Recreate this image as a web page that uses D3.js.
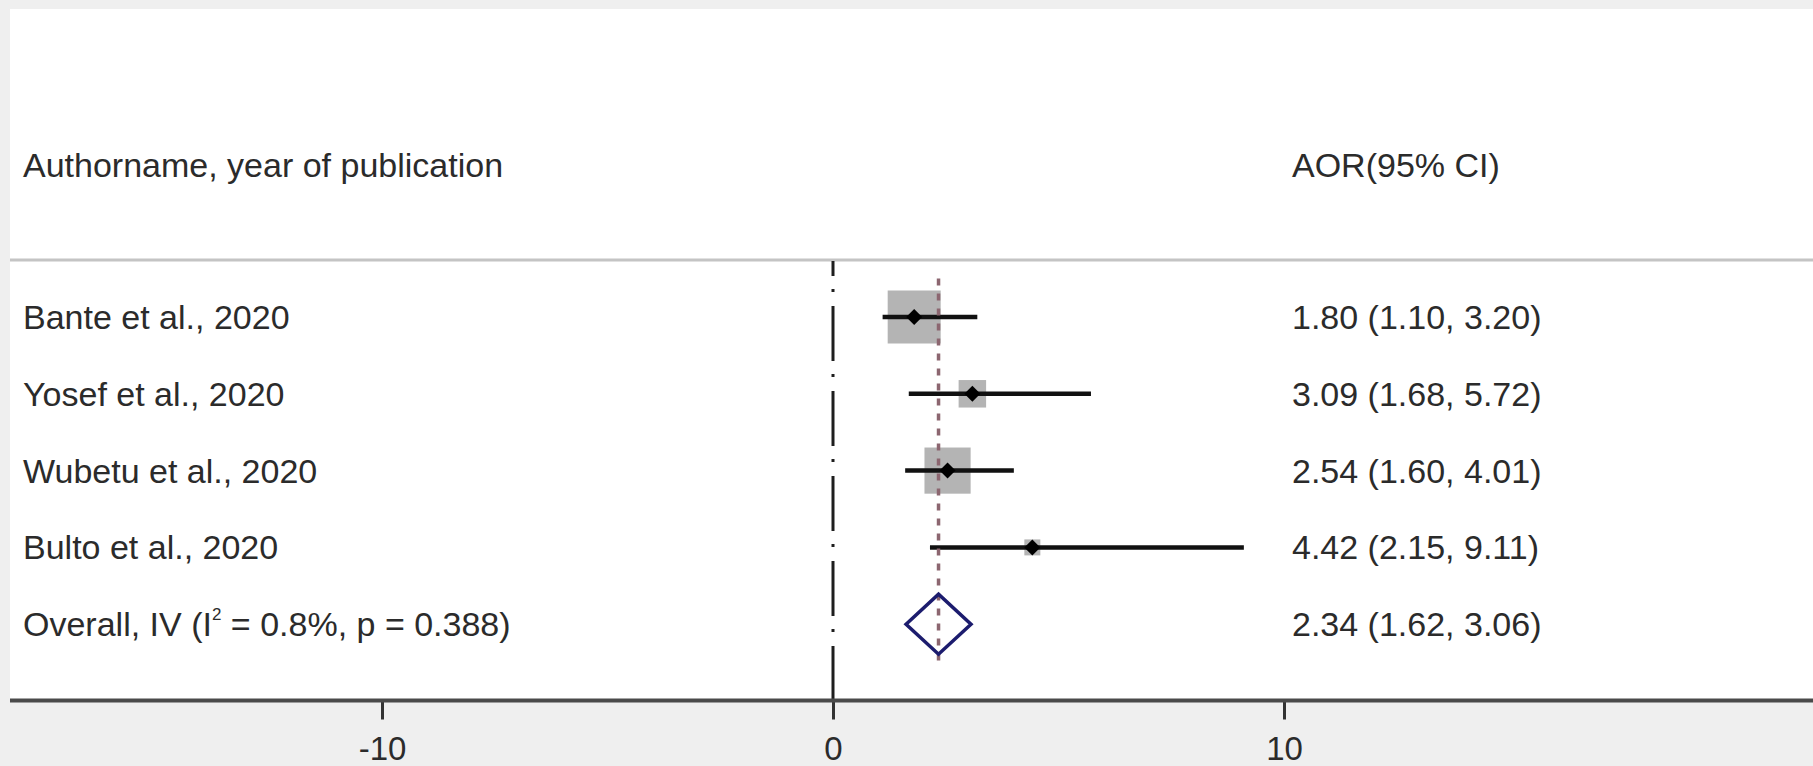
<!DOCTYPE html>
<html>
<head>
<meta charset="utf-8">
<script src="https://cdnjs.cloudflare.com/ajax/libs/d3/7.8.5/d3.min.js"></script>
<style>
  html, body { margin: 0; padding: 0; background: #efefef; }
  svg { display: block; }
  text { font-family: "Liberation Sans", Arial, sans-serif; fill: #2b2b2b; }
</style>
</head>
<body>
<script>
// Study-level estimates (adjusted odds ratios with 95% CI)
const studies = ["Bante et al., 2020", "Yosef et al., 2020", "Wubetu et al., 2020", "Bulto et al., 2020"];
const aor = [1.80, 3.09, 2.54, 4.42];
const lower = [1.10, 1.68, 1.60, 2.15];
const upper = [3.20, 5.72, 4.01, 9.11];
// Relative study weights (%), drive box size
const weights = [47.2, 12.7, 35.8, 4.3];

// Pooled estimate
const overallLabel = ["Overall, IV (I", "2", " = 0.8%, p = 0.388)"];
const overallEst = [2.34];
const overallLower = [1.62];
const overallUpper = [3.06];

// Column headings and axis ticks
const headers = ["Authorname, year of publication", "AOR(95% CI)"];
const xTicks = [-10, 0, 10];

const W = 1813, H = 766;
const svg = d3.select("body").append("svg").attr("width", W).attr("height", H);

// Panel geometry
const panelLeft = 10, panelTop = 9;
const axisY = 700.5;
const headerLineY = 260;
const labelX = 23, ciX = 1292;

const fmt = d3.format(".2f");
const rows = studies.concat(["overall"]);

const x = d3.scaleLinear().domain([-10, 10]).range([382, 1284]);
const y = d3.scalePoint().domain(rows).range([317, 624.2]);
const step = y.step();
const boxSize = d3.scaleSqrt().domain([0, 47.2]).range([0, 53]);

// White plot region
svg.append("rect")
  .attr("x", panelLeft).attr("y", panelTop)
  .attr("width", W - panelLeft).attr("height", axisY - panelTop)
  .attr("fill", "#ffffff");

// Header texts
svg.append("text").attr("x", labelX).attr("y", 177).attr("font-size", 34).text(headers[0]);
svg.append("text").attr("x", ciX).attr("y", 177).attr("font-size", 34).text(headers[1]);

// Header separator
svg.append("line")
  .attr("x1", panelLeft).attr("x2", W)
  .attr("y1", headerLineY).attr("y2", headerLineY)
  .attr("stroke", "#c4c4c4").attr("stroke-width", 3);

// Null line at zero
svg.append("line")
  .attr("x1", x(0)).attr("x2", x(0))
  .attr("y1", headerLineY + 1).attr("y2", axisY)
  .attr("stroke", "#1e1e1e").attr("stroke-width", 3)
  .attr("stroke-dasharray", "55,13,3,14")
  .attr("stroke-dashoffset", 40);

// Weight boxes
const g = svg.append("g");
g.selectAll("rect.box").data(studies).join("rect")
  .attr("class", "box")
  .attr("x", (d, i) => x(aor[i]) - boxSize(weights[i]) / 2)
  .attr("y", (d, i) => y(d) - boxSize(weights[i]) / 2)
  .attr("width", (d, i) => boxSize(weights[i]))
  .attr("height", (d, i) => boxSize(weights[i]))
  .attr("fill", "#b4b4b4");

// Pooled-estimate reference line
svg.append("line")
  .attr("x1", x(overallEst[0])).attr("x2", x(overallEst[0]))
  .attr("y1", y(studies[0]) - step / 2).attr("y2", y("overall") + step / 2)
  .attr("stroke", "#8c6670").attr("stroke-width", 3.5)
  .attr("stroke-dasharray", "7,8");

// Confidence intervals
g.selectAll("line.ci").data(studies).join("line")
  .attr("class", "ci")
  .attr("x1", (d, i) => x(lower[i])).attr("x2", (d, i) => x(upper[i]))
  .attr("y1", d => y(d)).attr("y2", d => y(d))
  .attr("stroke", "#111").attr("stroke-width", 4.5);

// Point estimates
const pt = 8;
g.selectAll("path.pt").data(studies).join("path")
  .attr("class", "pt")
  .attr("d", (d, i) => {
    const cx = x(aor[i]), cy = y(d);
    return `M${cx - pt},${cy}L${cx},${cy - pt}L${cx + pt},${cy}L${cx},${cy + pt}Z`;
  })
  .attr("fill", "#000");

// Overall diamond
const oy = y("overall"), dh = 30;
svg.append("path")
  .attr("d", `M${x(overallLower[0])},${oy}L${x(overallEst[0])},${oy - dh}L${x(overallUpper[0])},${oy}L${x(overallEst[0])},${oy + dh}Z`)
  .attr("fill", "none").attr("stroke", "#1c1c6e").attr("stroke-width", 3.5);

// Study labels and estimate text
g.selectAll("text.lab").data(studies).join("text")
  .attr("class", "lab")
  .attr("x", labelX).attr("y", d => y(d) + 12).attr("font-size", 34)
  .text(d => d);
g.selectAll("text.est").data(studies).join("text")
  .attr("class", "est")
  .attr("x", ciX).attr("y", d => y(d) + 12).attr("font-size", 34)
  .text((d, i) => `${fmt(aor[i])} (${fmt(lower[i])}, ${fmt(upper[i])})`);

const ot = svg.append("text").attr("x", labelX).attr("y", oy + 12).attr("font-size", 34);
ot.append("tspan").text(overallLabel[0]);
ot.append("tspan").attr("font-size", 17).attr("dy", -16).text(overallLabel[1]);
ot.append("tspan").attr("dy", 16).text(overallLabel[2]);
svg.append("text").attr("x", ciX).attr("y", oy + 12).attr("font-size", 34)
  .text(`${fmt(overallEst[0])} (${fmt(overallLower[0])}, ${fmt(overallUpper[0])})`);

// Bottom axis
const axis = d3.axisBottom(x).tickValues(xTicks).tickSize(19).tickPadding(17).tickFormat(d => String(d));
const ax = svg.append("g").attr("transform", `translate(0,${axisY})`).call(axis);
ax.select(".domain").remove();
ax.selectAll(".tick line").attr("stroke", "#333").attr("stroke-width", 3);
ax.selectAll(".tick text").attr("font-size", 33).attr("fill", "#2b2b2b")
  .attr("font-family", "Liberation Sans, Arial, sans-serif");
svg.append("line")
  .attr("x1", panelLeft).attr("x2", W)
  .attr("y1", axisY).attr("y2", axisY)
  .attr("stroke", "#4a4a4a").attr("stroke-width", 4);
</script>
</body>
</html>
